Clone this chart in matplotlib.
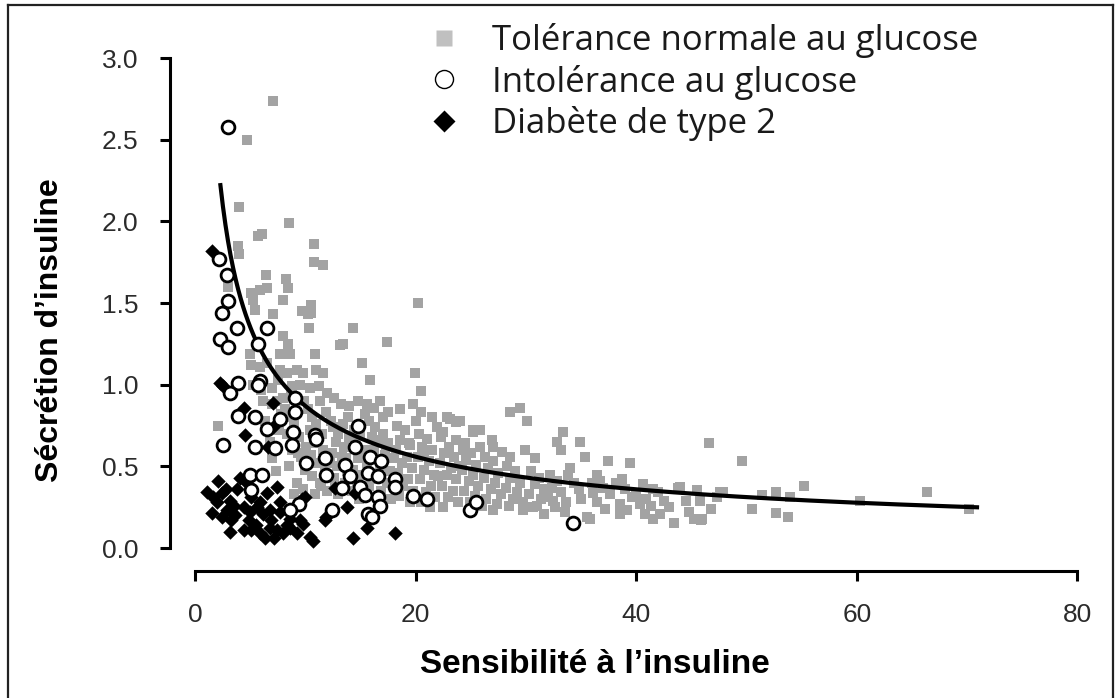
import matplotlib.pyplot as plt
import numpy as np
from matplotlib.lines import Line2D

# Tolérance normale au glucose (x = sensibilité, y = sécrétion)
ntg_x = [7.05, 4.7, 4.0, 8.5, 6.05, 5.7, 3.9, 4.0, 10.8, 10.8, 11.6, 6.4, 8.25, 8.4, 6.5, 5.9, 5.1,
         5.3, 5.4, 8.0, 3.0, 10.5, 10.5, 9.7, 10.2, 7.05, 20.2, 10.3, 14.3, 17.4, 13.1, 13.4, 8.0,
         8.4, 7.7, 8.6, 10.9, 5.0, 15.1, 5.1, 5.9, 6.5, 7.7, 8.3, 9.2, 9.8, 11.0, 11.6, 19.9, 15.9,
         20.5, 16.8, 2.1,
         5.3, 6.0, 7.0, 7.5, 8.8, 9.5, 10.4, 11.2, 12.0, 6.2, 7.0, 8.0, 9.9, 11.3, 12.6, 13.2, 14.0,
         14.8, 15.6, 16.2, 17.5, 18.6, 19.8, 20.5, 21.5, 22.8, 23.1, 23.7, 24.0, 25.2, 25.8, 28.6,
         29.5, 30.1, 22.5, 25.2, 23.7, 24.5, 27.0, 33.4, 32.8, 33.2, 34.9, 28.6, 30.8, 35.4, 37.4,
         39.4, 46.6, 49.6, 34.0, 33.8, 36.4, 36.7, 38.7, 40.6, 41.5, 44.0, 45.5, 47.6, 36.1, 36.4,
         38.5, 40.3, 40.8, 38.5, 41.5, 43.4, 45.2, 45.9, 46.8, 35.5, 35.8, 27.0, 32.5, 31.6, 29.7,
         30.6, 47.9, 47.3, 46.0, 45.8, 50.5, 51.4, 52.7, 53.9, 52.7, 53.8, 55.2, 60.3, 66.4, 70.2,
         8.2, 8.6, 9.0, 8.3, 9.4, 8.8, 9.6, 8.5, 10.0, 9.2, 9.0, 7.3, 7.0, 6.8, 7.6, 6.3, 7.8, 8.7,
         10.2, 10.6, 11.0, 10.4, 11.5, 10.8, 11.6, 10.5, 11.0, 11.8, 10.6, 11.3, 12.0, 10.9, 11.9, 12.3,
         12.5, 13.0, 12.8, 13.5, 12.4, 13.3, 12.9, 13.8, 12.6, 13.6, 13.0, 13.9, 13.4, 14.0,
         14.4, 15.0, 14.6, 15.4, 14.8, 15.6, 14.3, 15.2, 14.7, 15.8, 15.3, 14.9, 15.8, 15.4,
         16.3, 17.0, 16.6, 17.5, 16.2, 17.2, 16.8, 17.7, 16.4, 17.4, 16.9, 17.8, 17.0,
         18.3, 19.0, 18.6, 19.5, 18.2, 19.2, 18.8, 19.7, 18.4, 19.3, 18.9, 19.8, 18.5, 19.5, 20.0,
         20.3, 21.0, 20.6, 21.5, 20.2, 21.2, 20.8, 21.7, 20.4, 21.4, 20.9, 21.8, 20.5, 21.3, 21.9,
         22.3, 23.0, 22.6, 23.5, 22.2, 23.2, 22.8, 23.7, 22.4, 23.4, 22.9, 23.8, 22.5,
         24.3, 25.0, 24.6, 25.5, 24.2, 25.2, 24.8, 25.7, 24.4, 25.4, 24.9, 25.8, 26.0,
         26.3, 27.0, 26.6, 27.5, 26.2, 27.2, 26.8, 27.7, 26.4, 27.4, 26.9, 27.8,
         28.3, 29.0, 28.6, 29.5, 28.2, 29.2, 28.8, 29.7, 28.5, 29.9,
         30.5, 31.2, 30.8, 31.6, 30.3, 31.4, 32.2, 32.8, 32.4, 33.2, 32.0, 33.6, 31.0, 32.6, 33.5,
         34.4, 34.8, 35.0,
         36.0, 37.0, 37.6, 38.2, 39.0, 39.6, 40.0, 40.9, 41.3, 37.2, 39.2, 42.0, 42.5, 43.0, 42.2,
         44.5, 44.8, 43.8,
         7.4, 9.3, 10.1, 12.2, 13.7, 9.8, 11.4, 12.7, 14.2, 16.0, 17.3, 18.0, 19.4, 20.8, 22.0, 23.9]
ntg_y = [2.74, 2.50, 2.09, 1.99, 1.92, 1.91, 1.85, 1.80, 1.86, 1.75, 1.73, 1.67, 1.65, 1.59, 1.59, 1.58, 1.56,
         1.52, 1.46, 1.52, 1.60, 1.49, 1.44, 1.45, 1.43, 1.43, 1.50, 1.35, 1.35, 1.26, 1.24, 1.25, 1.30,
         1.25, 1.19, 1.19, 1.19, 1.19, 1.13, 1.12, 1.11, 1.13, 1.09, 1.07, 1.09, 1.07, 1.09, 1.07, 1.07, 1.03,
         0.96, 0.90, 0.75,
         1.00, 0.97, 0.98, 1.03, 0.99, 1.00, 0.98, 0.99, 0.95, 0.90, 0.88, 0.92, 0.90, 0.90, 0.92, 0.88, 0.87,
         0.90, 0.88, 0.86, 0.83, 0.85, 0.88, 0.83, 0.80, 0.80, 0.79, 0.77, 0.78, 0.72, 0.72, 0.83,
         0.86, 0.78, 0.71, 0.71, 0.66, 0.64, 0.62, 0.71, 0.65, 0.60, 0.65, 0.56, 0.55, 0.56, 0.53,
         0.52, 0.64, 0.53, 0.49, 0.45, 0.45, 0.41, 0.42, 0.39, 0.36, 0.375, 0.355, 0.345, 0.335, 0.28,
         0.27, 0.27, 0.21, 0.21, 0.18, 0.155, 0.18, 0.17, 0.24, 0.19, 0.18, 0.23, 0.29, 0.21, 0.23,
         0.25, 0.345, 0.31, 0.176, 0.29, 0.237, 0.325, 0.34, 0.31, 0.216, 0.19, 0.38, 0.29, 0.34, 0.24,
         0.85, 0.80, 0.76, 0.70, 0.68, 0.60, 0.56, 0.50, 0.48, 0.40, 0.33, 0.47, 0.55, 0.65, 0.72, 0.78, 0.82, 0.94,
         0.85, 0.80, 0.76, 0.72, 0.70, 0.64, 0.60, 0.57, 0.52, 0.48, 0.44, 0.40, 0.35, 0.33, 0.83, 0.78,
         0.74, 0.70, 0.65, 0.62, 0.58, 0.56, 0.50, 0.47, 0.43, 0.40, 0.33, 0.80, 0.76, 0.68,
         0.72, 0.70, 0.64, 0.60, 0.55, 0.52, 0.48, 0.45, 0.40, 0.38, 0.34, 0.30, 0.78, 0.82,
         0.74, 0.70, 0.66, 0.64, 0.60, 0.57, 0.50, 0.47, 0.42, 0.40, 0.35, 0.30, 0.80,
         0.75, 0.72, 0.66, 0.63, 0.60, 0.56, 0.52, 0.49, 0.46, 0.42, 0.38, 0.35, 0.32, 0.28, 0.78,
         0.70, 0.67, 0.62, 0.60, 0.56, 0.53, 0.48, 0.45, 0.42, 0.38, 0.34, 0.31, 0.28, 0.25, 0.74,
         0.68, 0.62, 0.58, 0.56, 0.52, 0.49, 0.45, 0.42, 0.38, 0.35, 0.31, 0.28, 0.25,
         0.60, 0.58, 0.54, 0.51, 0.48, 0.45, 0.41, 0.38, 0.35, 0.32, 0.28, 0.62, 0.26,
         0.56, 0.53, 0.49, 0.46, 0.43, 0.40, 0.36, 0.33, 0.30, 0.27, 0.66, 0.59,
         0.50, 0.47, 0.43, 0.40, 0.37, 0.34, 0.30, 0.28, 0.26, 0.60,
         0.47, 0.43, 0.39, 0.36, 0.33, 0.30, 0.45, 0.41, 0.37, 0.34, 0.31, 0.28, 0.26, 0.25, 0.22,
         0.40, 0.36, 0.30,
         0.40, 0.37, 0.33, 0.40, 0.36, 0.31, 0.33, 0.30, 0.26, 0.24, 0.23, 0.34, 0.29, 0.25, 0.21,
         0.29, 0.22, 0.37,
         0.90, 0.58, 0.62, 0.52, 0.55, 0.36, 0.38, 0.37, 0.35, 0.68, 0.62, 0.55, 0.64, 0.58, 0.44, 0.50]

# Intolérance au glucose
igt_x = [2.97, 2.2, 2.9, 3.0, 2.4, 3.8, 6.55, 2.27, 3.0, 5.7, 3.9, 3.2, 5.9, 5.7, 9.07, 3.9, 5.4,
         7.7, 9.07, 6.5, 8.9, 10.9, 11.0, 14.8, 2.57, 5.4, 7.25, 8.8, 14.5, 15.9, 16.9, 10.1, 11.8,
         11.9, 13.6, 14.05, 15.7, 16.6, 18.1, 18.1, 19.8, 21.0, 4.99, 6.05, 5.1, 9.4, 8.6, 12.4,
         13.3, 15.0, 15.4, 16.6, 16.8, 15.7, 16.0, 24.9, 25.5, 34.3]
igt_y = [2.58, 1.77, 1.67, 1.51, 1.44, 1.35, 1.35, 1.28, 1.23, 1.25, 1.01, 0.95, 1.02, 1.00, 0.92, 0.81, 0.80,
         0.79, 0.83, 0.73, 0.71, 0.69, 0.67, 0.75, 0.63, 0.62, 0.61, 0.63, 0.62, 0.56, 0.53, 0.52, 0.55,
         0.45, 0.51, 0.44, 0.46, 0.44, 0.42, 0.375, 0.32, 0.30, 0.45, 0.45, 0.355, 0.27, 0.23, 0.23,
         0.365, 0.375, 0.325, 0.314, 0.26, 0.21, 0.19, 0.23, 0.28, 0.155]

# Diabète de type 2
t2d_x = [1.5, 2.27, 2.57, 7.1, 4.4, 7.1, 4.5, 6.6, 2.1, 1.06, 1.66, 2.4, 3.17, 3.5, 1.5, 2.4, 3.3,
         4.08, 4.7, 5.1, 5.9, 6.5, 7.4, 7.7, 4.4, 5.0, 5.6, 6.2, 6.8, 7.7, 4.4, 5.1, 5.9, 6.35, 6.8,
         7.4, 8.0, 8.6, 9.2, 9.8, 10.4, 10.7, 8.6, 9.5, 9.7, 10.0, 11.8, 11.9, 12.7, 13.75, 14.5,
         14.35, 15.6, 18.1, 3.2, 2.0, 2.8, 3.8, 4.9, 5.5, 6.9, 7.2, 8.3, 3.6, 2.9]
t2d_y = [1.82, 1.01, 0.99, 0.89, 0.855, 0.74, 0.69, 0.62, 0.41, 0.345, 0.31, 0.335, 0.29, 0.26, 0.216, 0.19, 0.17,
         0.43, 0.40, 0.31, 0.28, 0.335, 0.375, 0.28, 0.25, 0.22, 0.25, 0.21, 0.23, 0.22, 0.11, 0.11, 0.09, 0.06, 0.12,
         0.11, 0.09, 0.12, 0.09, 0.15, 0.07, 0.04, 0.18, 0.17, 0.30, 0.31, 0.17, 0.19, 0.365, 0.25, 0.335,
         0.06, 0.12, 0.09, 0.10, 0.28, 0.36, 0.36, 0.17, 0.14, 0.17, 0.06, 0.14, 0.20, 0.23]

# power-law fit: secretion = a * sensitivity ** b
fit_a, fit_b = 3.78, -0.638
fit_range = (2.3, 70.9)

labels = ['Tolérance normale au glucose', 'Intolérance au glucose', 'Diabète de type 2']

fig = plt.figure(figsize=(11.17, 6.98), dpi=100)
ax = fig.add_axes([0.1522, 0.1819, 0.8222, 0.7396])

ax.scatter(ntg_x, ntg_y, marker='s', s=58, color='#a3a3a3', linewidths=0, zorder=2)
fx = np.linspace(fit_range[0], fit_range[1], 300)
ax.plot(fx, fit_a * fx ** fit_b, color='black', lw=3, zorder=3)
ax.scatter(t2d_x, t2d_y, marker='D', s=54, color='black', linewidths=0, zorder=4)
ax.scatter(igt_x, igt_y, marker='o', s=85, facecolor='white', edgecolor='black',
           linewidths=2.0, zorder=5)

ax.set_xlim(-2.27, 81)
ax.set_ylim(-0.141, 3.02)
ax.set_xticks([0, 20, 40, 60, 80])
ax.set_yticks([0, 0.5, 1.0, 1.5, 2.0, 2.5, 3.0])
ax.set_yticklabels(['0.0', '0.5', '1.0', '1.5', '2.0', '2.5', '3.0'])

for side in ['top', 'right']:
    ax.spines[side].set_visible(False)
ax.spines['left'].set_bounds(0, 3)
ax.spines['bottom'].set_bounds(0, 80)
for side in ['left', 'bottom']:
    ax.spines[side].set_linewidth(2.2)
ax.tick_params(direction='out', length=7, width=2.2, pad=16, labelsize=19,
               labelcolor='#2b2b2b')
for lab in ax.get_xticklabels() + ax.get_yticklabels():
    lab.set_family('Liberation Sans')

ax.set_xlabel('Sensibilité à l’insuline', family='Liberation Sans', fontweight='bold',
              fontsize=24, va='center')
ax.set_ylabel('Sécrétion d’insuline', family='Liberation Sans', fontweight='bold',
              fontsize=23, va='center')
ax.xaxis.set_label_coords(0.463, -0.182)
ax.yaxis.set_label_coords(-0.131, 0.467)

handles = [
    Line2D([], [], ls='none', marker='s', ms=12, color='#c0c0c0', mec='none'),
    Line2D([], [], ls='none', marker='o', ms=13, mfc='white', mec='black', mew=1),
    Line2D([], [], ls='none', marker='D', ms=11, color='black', mec='none'),
]
leg = ax.legend(handles, labels, loc='upper left', bbox_to_anchor=(0.26, 1.088),
                frameon=False, prop={'family': 'Open Sans', 'size': 25}, labelspacing=0.18,
                handletextpad=0.8, handlelength=1.2, borderaxespad=0)
for t in leg.get_texts():
    t.set_color('#1a1a1a')

# frame around the whole figure
frame_kw = dict(color='#222222', lw=1.6, transform=fig.transFigure)
fig.add_artist(Line2D([0.007, 0.996], [0.993, 0.993], **frame_kw))
fig.add_artist(Line2D([0.007, 0.007], [0.0, 0.993], **frame_kw))
fig.add_artist(Line2D([0.996, 0.996], [0.0, 0.993], **frame_kw))

fig.savefig('out.png', dpi=100)
